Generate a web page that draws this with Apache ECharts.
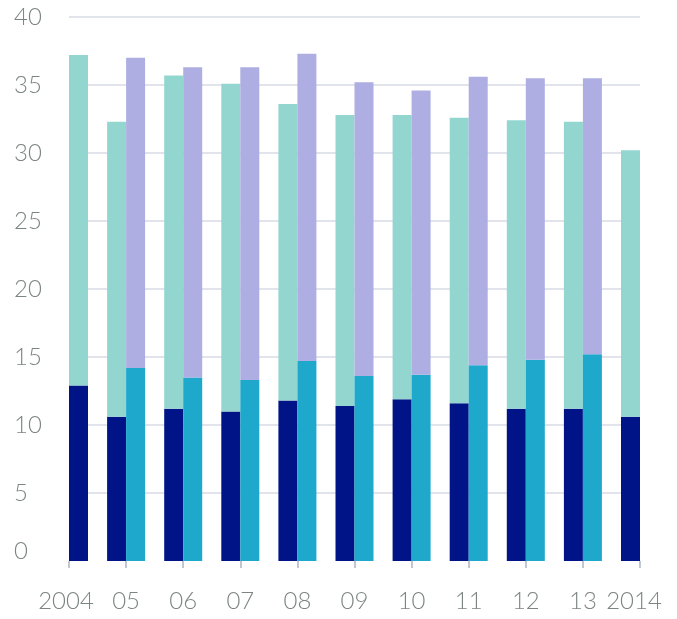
<!DOCTYPE html>
<html>
<head>
<meta charset="utf-8">
<script src="https://cdn.jsdelivr.net/npm/echarts@6/dist/echarts.min.js"></script>
<style>
html,body{margin:0;padding:0;background:#fff;}
#c{width:677px;height:619px;}
</style>
</head>
<body>
<div id="c"></div>
<script>
// Category labels
const categories = ['2004', '05', '06', '07', '08', '09', '10', '11', '12', '13', '2014'];
// Left stack: navy bottom + teal top segment
const navyValues = [12.9, 10.6, 11.2, 11.0, 11.8, 11.4, 11.9, 11.6, 11.2, 11.2, 10.6];
const tealValues = [24.3, 21.7, 24.5, 24.1, 21.8, 21.4, 20.9, 21.0, 21.2, 21.1, 19.6];
// Right stack: cyan bottom + lavender top segment
const cyanValues = [null, 14.2, 13.5, 13.3, 14.7, 13.6, 13.7, 14.4, 14.8, 15.2, null];
const lavenderValues = [null, 22.8, 22.8, 23.0, 22.6, 21.6, 20.9, 21.2, 20.7, 20.3, null];
// Y tick labels
const yTicks = [0, 5, 10, 15, 20, 25, 30, 35, 40];

const NAVY = '#001487';
const TEAL = '#93d6d0';
const CYAN = '#1ea8cc';
const LAV = '#aeaee2';
const GREY = '#7d8584';
const GRID = '#d8dbe6';

// The first year sits at the left edge of the plot, so its bars take the right slot
const leftBottom = navyValues.map((v, i) => i === 0 ? null : v);
const leftTop = tealValues.map((v, i) => i === 0 ? null : v);
const rightBottom = cyanValues.map((v, i) => i === 0 ? { value: navyValues[0], itemStyle: { color: NAVY } } : v);
const rightTop = lavenderValues.map((v, i) => i === 0 ? { value: tealValues[0], itemStyle: { color: TEAL } } : v);

const chart = echarts.init(document.getElementById('c'), null, { renderer: 'canvas' });
const font = 'Lato, "Open Sans", sans-serif';
const FS = 24;
chart.setOption({
  animation: false,
  backgroundColor: '#fff',
  grid: { left: 69, right: 37, top: 17, bottom: 58, containLabel: false },
  xAxis: {
    type: 'category',
    data: categories,
    boundaryGap: false,
    offset: 10,
    axisLine: { show: false },
    axisTick: { show: true, interval: 0, length: 7, lineStyle: { color: '#c2c6d2', width: 2 } },
    axisLabel: {
      color: GREY, fontSize: FS, fontFamily: font, fontWeight: 300, margin: 18,
      interval: 0,
      formatter: function (v, i) {
        if (i === 0) return '{a|' + v + '}';
        if (i === categories.length - 1) return '{b|' + v + '}';
        return v;
      },
      rich: {
        a: { color: GREY, fontSize: FS, fontFamily: font, fontWeight: 300, padding: [0, 6, 0, 0] },
        b: { color: GREY, fontSize: FS, fontFamily: font, fontWeight: 300, padding: [0, 12, 0, 0] }
      }
    },
    splitLine: { show: false }
  },
  yAxis: {
    type: 'value',
    min: yTicks[0],
    max: yTicks[yTicks.length - 1],
    interval: 5,
    axisLine: { show: false },
    axisTick: { show: false },
    axisLabel: {
      color: GREY, fontSize: FS, fontFamily: font, fontWeight: 300,
      align: 'left', margin: 55,
      formatter: function (v) { return v === 0 ? '{z|0}' : String(v); },
      rich: { z: { color: GREY, fontSize: FS, fontFamily: font, fontWeight: 300, padding: [0, 0, 20, 0] } }
    },
    splitLine: {
      show: true,
      lineStyle: { color: GRID, width: 1.5 },
      showMinLine: false
    }
  },
  series: [
    { type: 'bar', stack: 'L', barWidth: 19, barGap: '0%', data: leftBottom, itemStyle: { color: NAVY } },
    { type: 'bar', stack: 'L', barWidth: 19, barGap: '0%', data: leftTop, itemStyle: { color: TEAL } },
    { type: 'bar', stack: 'R', barWidth: 19, barGap: '0%', data: rightBottom, itemStyle: { color: CYAN } },
    { type: 'bar', stack: 'R', barWidth: 19, barGap: '0%', data: rightTop, itemStyle: { color: LAV } }
  ]
});
</script>
</body>
</html>
